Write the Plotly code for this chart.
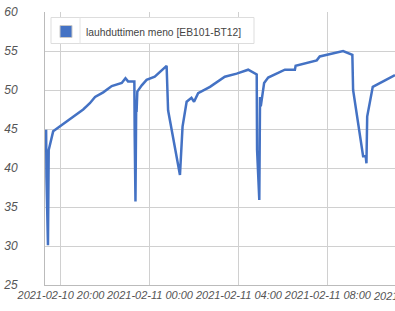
import plotly.graph_objects as go

times = [
    "2021-02-10 19:20", "2021-02-10 19:21", "2021-02-10 19:25", "2021-02-10 19:27",
    "2021-02-10 19:39", "2021-02-10 19:57", "2021-02-10 20:33", "2021-02-10 21:00",
    "2021-02-10 21:18", "2021-02-10 21:32", "2021-02-10 21:54", "2021-02-10 22:17",
    "2021-02-10 22:44", "2021-02-10 22:54", "2021-02-10 23:01", "2021-02-10 23:18",
    "2021-02-10 23:19", "2021-02-10 23:21", "2021-02-10 23:23", "2021-02-10 23:24",
    "2021-02-10 23:26", "2021-02-10 23:38", "2021-02-10 23:51", "2021-02-11 00:13",
    "2021-02-11 00:45", "2021-02-11 00:49", "2021-02-11 01:21", "2021-02-11 01:28",
    "2021-02-11 01:39", "2021-02-11 01:52", "2021-02-11 01:59", "2021-02-11 02:10",
    "2021-02-11 02:42", "2021-02-11 03:22", "2021-02-11 03:54", "2021-02-11 04:25",
    "2021-02-11 04:48", "2021-02-11 04:49", "2021-02-11 04:55", "2021-02-11 04:57",
    "2021-02-11 04:59", "2021-02-11 05:08", "2021-02-11 05:19", "2021-02-11 06:04",
    "2021-02-11 06:31", "2021-02-11 06:33", "2021-02-11 07:30", "2021-02-11 07:38",
    "2021-02-11 08:41", "2021-02-11 09:06", "2021-02-11 09:08", "2021-02-11 09:35",
    "2021-02-11 09:42", "2021-02-11 09:44", "2021-02-11 09:46", "2021-02-11 10:01",
    "2021-02-11 10:29", "2021-02-11 11:01",
]
values = [
    44.9, 38.8, 30.1, 42.3,
    44.7, 45.3, 46.6, 47.5,
    48.3, 49.1, 49.7, 50.5,
    50.9, 51.5, 51.1, 51.1,
    44.0, 35.7, 48.3, 47.2,
    49.8, 50.6, 51.3, 51.7,
    53.1, 47.4, 39.1, 45.3,
    48.5, 49.0, 48.5, 49.6,
    50.4, 51.7, 52.1, 52.6,
    52.0, 42.3, 35.9, 49.1,
    47.9, 50.9, 51.6, 52.6,
    52.6, 53.1, 53.8, 54.3,
    55.0, 54.5, 50.0, 41.5,
    41.5, 40.6, 46.6, 50.4,
    51.1, 51.9,
]
series_name = "lauhduttimen meno [EB101-BT12]"
x_range = ["2021-02-10 19:17", "2021-02-11 11:01"]
y_range = [25, 60]
cut_tick_label = "2021-02-11 12:00"

W, H = 395, 311
ML, MT, MB = 45, 12, 26
PW, PH = W - ML, H - MT - MB


def px(x):
    return (x - ML) / PW


def py(y):
    return (H - MB - y) / PH


line_color = "#4472c4"
grid_color = "#d0d0d0"
tick_font = dict(family="Liberation Sans, Arial, sans-serif", size=11, color="#555555", style="italic")

fig = go.Figure()
fig.add_trace(go.Scatter(
    x=times, y=values, mode="lines", showlegend=False,
    line=dict(color=line_color, width=2.5),
))
# legend-only swatch (bar sits at 0, below the visible y range)
fig.add_trace(go.Bar(
    x=[times[0]], y=[0], name=series_name, showlegend=True, hoverinfo="skip",
    marker=dict(color=line_color, line=dict(color="#c8c8c8", width=1)),
))

fig.update_layout(
    width=W, height=H,
    margin=dict(l=ML, r=0, t=MT, b=MB),
    paper_bgcolor="white", plot_bgcolor="white",
    showlegend=True,
    legend=dict(
        x=px(46), y=py(17), xanchor="left", yanchor="top",
        bgcolor="rgba(0,0,0,0)", borderwidth=0,
        font=dict(family="Liberation Sans, Arial, sans-serif", size=10.3, color="#444444"),
    ),
    xaxis=dict(
        type="date", range=x_range,
        tick0="2021-02-10 20:00", dtick=4 * 3600 * 1000,
        tickformat="%Y-%m-%d %H:%M", tickangle=0,
        showgrid=True, gridcolor=grid_color, gridwidth=1,
        showline=True, linecolor="#bbbbbb", linewidth=1,
        zeroline=False, tickfont=tick_font, ticks="",
    ),
    yaxis=dict(
        range=y_range, dtick=5, tick0=25,
        showgrid=True, gridcolor=grid_color, gridwidth=1,
        showline=True, linecolor="#bbbbbb", linewidth=1,
        zeroline=False, ticks="", ticklabelstandoff=24,
        tickfont=dict(family="Liberation Sans, Arial, sans-serif", size=12, color="#555555", style="italic"),
    ),
    shapes=[
        dict(type="rect", xref="paper", yref="paper", layer="above",
             x0=px(51), x1=px(254), y0=py(43.5), y1=py(17.5),
             fillcolor="white", line=dict(color="#dddddd", width=1)),
        dict(type="line", xref="paper", yref="paper", layer="above",
             x0=px(80), x1=px(80), y0=py(43.5), y1=py(17.5),
             line=dict(color="#e4e4e4", width=1)),
    ],
    annotations=[dict(
        text=cut_tick_label, xref="paper", yref="paper",
        x=px(417), y=0, xanchor="center", yanchor="top",
        yshift=-3, showarrow=False, font=tick_font,
    )],
)

fig.write_html("out.html")
